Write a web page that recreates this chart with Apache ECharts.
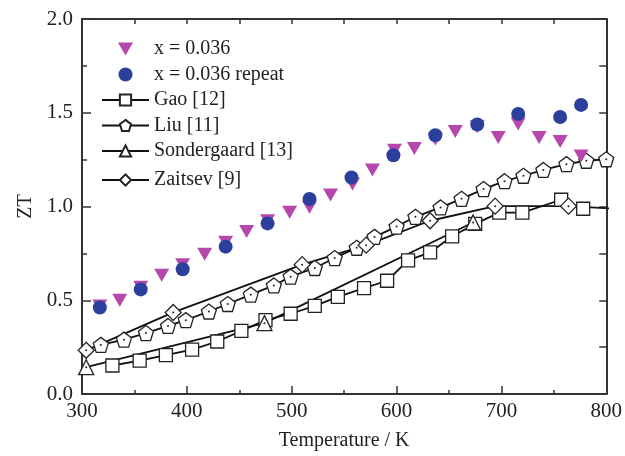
<!DOCTYPE html>
<html>
<head>
<meta charset="utf-8">
<script src="https://cdn.jsdelivr.net/npm/echarts@6/dist/echarts.min.js"></script>
<style>
html,body{margin:0;padding:0;background:#fff;}
#chart{width:625px;height:456px;}
</style>
</head>
<body>
<div id="chart"></div>
<script>
// ---- data ----
var xTicks = [300, 400, 500, 600, 700, 800];
var yTicks = [0.0, 0.5, 1.0, 1.5, 2.0];

var x036T  = [317,336,356,376,396,417,437,457,477,498,517,537,558,577,598,617,637,656,677,697,716,736,756,776];
var x036ZT = [0.47,0.50,0.57,0.634,0.69,0.746,0.81,0.867,0.924,0.97,0.996,1.062,1.12,1.195,1.30,1.31,1.36,1.40,1.425,1.368,1.44,1.368,1.347,1.27];

var repT  = [317,356,396,437,477,517,557,597,637,677,716,756,776];
var repZT = [0.461,0.558,0.665,0.786,0.91,1.04,1.155,1.273,1.38,1.437,1.494,1.477,1.542];

var gaoT  = [329,355,380,405,429,452,475,499,522,544,569,591,611,632,653,675,698,720,757,778];
var gaoZT = [0.152,0.178,0.207,0.237,0.28,0.337,0.394,0.428,0.47,0.518,0.565,0.604,0.713,0.755,0.841,0.907,0.967,0.967,1.036,0.988];

var liuT  = [318,340,361,382,399,421,439,461,483,499,522,541,562,579,600,618,642,662,683,703,721,740,762,781,800];
var liuZT = [0.262,0.29,0.325,0.363,0.394,0.44,0.48,0.53,0.579,0.626,0.672,0.725,0.78,0.838,0.893,0.945,0.995,1.041,1.093,1.135,1.164,1.195,1.226,1.244,1.252];

var sonT  = [304,474,673];
var sonZT = [0.143,0.378,0.915];

var zaiT  = [304,387,510,571,632,694,764,820];
var zaiZT = [0.233,0.435,0.69,0.794,0.924,1.002,1.002,0.985];

var names = ['x = 0.036', 'x = 0.036 repeat', 'Gao [12]', 'Liu [11]', 'Sondergaard [13]', 'Zaitsev [9]'];

function pairs(t, z) { return t.map(function (v, i) { return [v, z[i]]; }); }

var FONT = 'Liberation Serif';
var INK = '#222';
var PENTAGON = 'path://M0,-10 L9.51,-3.09 L5.88,8.09 L-5.88,8.09 L-9.51,-3.09 Z';
var TRI_DOWN = 'path://M-7.5,-6.5 L7.5,-6.5 L0,6.5 Z';
// legend icons: same marks inside an empty 47x14 box so they are not stretched
var TRI_DOWN_LEGEND = 'path://M-23.5,-7 M23.5,7 M-7.5,-6.5 L7.5,-6.5 L0,6.5 Z';
var DOT_LEGEND = 'path://M-23.5,-7 M23.5,7 M-7,0 A7,7 0 1,0 7,0 A7,7 0 1,0 -7,0 Z';

function refLine(name, t, z, symbol, size) {
  return {
    name: name, type: 'line', data: pairs(t, z),
    symbol: symbol, symbolSize: size, showSymbol: true, clip: true,
    lineStyle: { color: '#111', width: 1.8 },
    itemStyle: { color: '#fff', borderColor: '#222', borderWidth: 1.3 },
    z: 3
  };
}

var dotData = pairs(liuT, liuZT).concat(pairs(sonT, sonZT)).concat(pairs(zaiT, zaiZT));

var chart = echarts.init(document.getElementById('chart'), null, { renderer: 'canvas' });
chart.setOption({
  animation: false,
  backgroundColor: '#fff',
  textStyle: { fontFamily: FONT, color: INK },
  grid: { left: 82, right: 17, top: 19, bottom: 51, containLabel: false },
  legend: [{
    data: [
      { name: names[0], icon: TRI_DOWN_LEGEND },
      { name: names[1], icon: DOT_LEGEND },
      names[2], names[3], names[4]
    ],
    orient: 'vertical', left: 96, top: 34,
    itemWidth: 47, itemHeight: 14, itemGap: 5.5,
    textStyle: { fontFamily: FONT, fontSize: 20, color: INK }
  }, {
    data: names.slice(5),
    orient: 'vertical', left: 96, top: 165,
    itemWidth: 47, itemHeight: 14,
    textStyle: { fontFamily: FONT, fontSize: 20, color: INK }
  }],
  xAxis: [{
    type: 'value', min: xTicks[0], max: xTicks[xTicks.length - 1], interval: 100,
    name: 'Temperature / K', nameLocation: 'middle', nameGap: 37,
    nameTextStyle: { fontFamily: FONT, fontSize: 20, color: INK },
    axisLine: { show: true, onZero: false, lineStyle: { color: '#333', width: 2 } },
    axisTick: { show: true, inside: true, length: 8, lineStyle: { color: '#333', width: 1.5 } },
    minorTick: { show: true, splitNumber: 2, length: 4, lineStyle: { color: '#333', width: 1.5 } },
    axisLabel: { fontFamily: FONT, fontSize: 21, color: INK, margin: 7 },
    splitLine: { show: false }
  }, {
    type: 'value', position: 'top', min: 300, max: 800, interval: 50,
    axisLine: { show: true, onZero: false, lineStyle: { color: '#333', width: 2 } },
    axisTick: { show: true, inside: true, length: 5, lineStyle: { color: '#333', width: 1.5 } },
    axisLabel: { show: false }, splitLine: { show: false }
  }],
  yAxis: [{
    type: 'value', min: yTicks[0], max: yTicks[yTicks.length - 1], interval: 0.5,
    name: 'ZT', nameLocation: 'middle', nameGap: 46,
    nameTextStyle: { fontFamily: FONT, fontSize: 20, color: INK },
    axisLine: { show: true, onZero: false, lineStyle: { color: '#333', width: 2 } },
    axisTick: { show: true, inside: true, length: 9, lineStyle: { color: '#333', width: 1.5 } },
    minorTick: { show: true, splitNumber: 2, length: 5, lineStyle: { color: '#333', width: 1.5 } },
    axisLabel: { fontFamily: FONT, fontSize: 21, color: INK, margin: 9,
      formatter: function (v) { return v.toFixed(1); } },
    splitLine: { show: false }
  }, {
    type: 'value', position: 'right', min: 0, max: 2, interval: 0.25,
    axisLine: { show: true, onZero: false, lineStyle: { color: '#333', width: 2 } },
    axisTick: { show: true, inside: true, length: 7, lineStyle: { color: '#333', width: 1.5 } },
    axisLabel: { show: false }, splitLine: { show: false }
  }],
  series: [
    refLine(names[3], liuT, liuZT, PENTAGON, 15),
    refLine(names[2], gaoT, gaoZT, 'rect', 13),
    refLine(names[4], sonT, sonZT, 'triangle', 15),
    refLine(names[5], zaiT, zaiZT, 'diamond', 16),
    {
      name: 'dots', type: 'scatter', data: dotData, symbol: 'circle', symbolSize: 2,
      itemStyle: { color: '#222', opacity: 1 }, silent: true, z: 4, clip: true
    },
    {
      name: names[0], type: 'scatter', data: pairs(x036T, x036ZT),
      symbol: TRI_DOWN, symbolSize: [15, 13],
      itemStyle: { color: '#b647ad', opacity: 1 }, z: 5
    },
    {
      name: names[1], type: 'scatter', data: pairs(repT, repZT),
      symbol: 'circle', symbolSize: 14,
      itemStyle: { color: '#2c3f9c', opacity: 1 }, z: 6
    }
  ]
});
</script>
</body>
</html>
